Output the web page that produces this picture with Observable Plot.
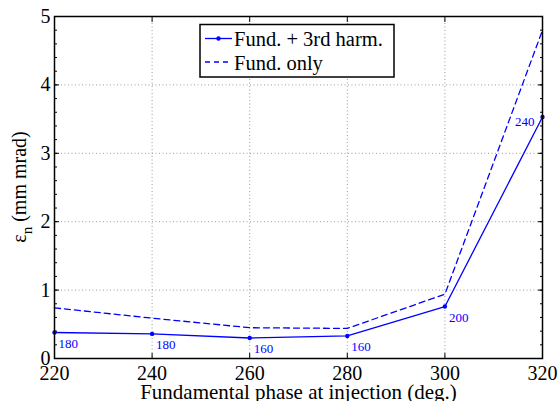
<!DOCTYPE html>
<html>
<head>
<meta charset="utf-8">
<script src="https://cdn.jsdelivr.net/npm/d3@7"></script>
<script src="https://cdn.jsdelivr.net/npm/@observablehq/plot@0.6"></script>
<style>
  html, body { margin: 0; padding: 0; background: white; }
  #chart { position: relative; width: 559px; height: 401px; }
</style>
</head>
<body>
<div id="chart"></div>
<script>
// Data
const phases = [220, 240, 260, 280, 300, 320];
const withHarm = [0.38, 0.36, 0.30, 0.33, 0.76, 3.53];
const fundOnly = [0.74, 0.59, 0.45, 0.44, 0.94, 4.80];
const pointLabels = ["180", "180", "160", "160", "200", "240"];
const xTicks = [220, 240, 260, 280, 300, 320];
const yTicks = [0, 1, 2, 3, 4, 5];
const yMinorTicks = d3.range(0, 26).map(i => i / 5);
const legendLabels = ["Fund. + 3rd harm.", "Fund. only"];
const xLabel = "Fundamental phase at injection (deg.)";

const harmRows = phases.map((x, i) => ({x, y: withHarm[i], label: pointLabels[i], i}));
const fundRows = phases.map((x, i) => ({x, y: fundOnly[i]}));
const blue = "#0000ff";
const font = "Liberation Serif";

const plot = Plot.plot({
  width: 559,
  height: 401,
  marginLeft: 54,
  marginRight: 17,
  marginTop: 16,
  marginBottom: 43,
  x: {domain: [220, 320]},
  y: {domain: [0, 5]},
  style: {fontFamily: font, fontSize: "20px", background: "white", color: "black"},
  marks: [
    Plot.ruleX(xTicks.slice(1, -1), {stroke: "#999", strokeDasharray: "1,2.5", strokeWidth: 1}),
    Plot.ruleY(yTicks.slice(1, -1), {stroke: "#999", strokeDasharray: "1,2.5", strokeWidth: 1}),
    Plot.axisX({ticks: xTicks, tickSize: 0, tickPadding: 7, tickFormat: d => String(d), label: null, fontSize: 20}),
    Plot.axisY({ticks: yTicks, tickSize: 0, tickPadding: 4, tickFormat: d => String(d), label: null, fontSize: 20}),
    Plot.axisX({ticks: xTicks, anchor: "bottom", tickSize: -5, text: null, label: null}),
    Plot.axisX({ticks: xTicks, anchor: "top", tickSize: -5, text: null, label: null}),
    Plot.axisY({ticks: yMinorTicks, anchor: "left", tickSize: -3, text: null, label: null}),
    Plot.axisY({ticks: yMinorTicks, anchor: "right", tickSize: -3, text: null, label: null}),
    Plot.axisY({ticks: yTicks, anchor: "left", tickSize: -5, text: null, label: null}),
    Plot.axisY({ticks: yTicks, anchor: "right", tickSize: -5, text: null, label: null}),
    Plot.line(fundRows, {x: "x", y: "y", stroke: blue, strokeWidth: 1.3, strokeDasharray: "6,4"}),
    Plot.line(harmRows, {x: "x", y: "y", stroke: blue, strokeWidth: 1.3}),
    Plot.dot(harmRows, {x: "x", y: "y", r: 2.2, fill: blue}),
    Plot.text(harmRows.filter(d => d.i < 5), {x: "x", y: "y", text: "label", fill: blue, fontSize: 13, textAnchor: "start", dx: 4, dy: 11}),
    Plot.text(harmRows.filter(d => d.i === 5), {x: "x", y: "y", text: "label", fill: blue, fontSize: 13, textAnchor: "end", dx: -8, dy: 5}),
    Plot.frame({stroke: "black", strokeWidth: 1.5}),
    Plot.text([xLabel], {frameAnchor: "bottom", dy: 40, fontSize: 21, fill: "black"})
  ]
});

document.getElementById("chart").appendChild(plot);

const svg = d3.select(plot);

// Y axis label with subscript
const yl = svg.append("text")
  .attr("transform", "translate(26,187) rotate(-90)")
  .attr("text-anchor", "middle")
  .attr("font-size", 20)
  .attr("fill", "black");
yl.append("tspan").text("\u03b5");
yl.append("tspan").attr("font-size", 15).attr("dy", 6).text("n");
yl.append("tspan").attr("dy", -6).text(" (mm mrad)");

// Legend
const lg = svg.append("g").attr("font-size", 20.5).attr("text-anchor", "start");
lg.append("rect").attr("x", 200).attr("y", 24.5).attr("width", 194).attr("height", 52.5)
  .attr("fill", "white").attr("stroke", "black").attr("stroke-width", 1.5);
lg.append("line").attr("x1", 205).attr("x2", 232).attr("y1", 38.5).attr("y2", 38.5)
  .attr("stroke", blue).attr("stroke-width", 1.3);
lg.append("circle").attr("cx", 218.5).attr("cy", 38.5).attr("r", 2.2).attr("fill", blue);
lg.append("line").attr("x1", 205).attr("x2", 232).attr("y1", 62).attr("y2", 62)
  .attr("stroke", blue).attr("stroke-width", 1.3).attr("stroke-dasharray", "5,4");
lg.append("text").attr("x", 234).attr("y", 45.5).attr("fill", "black").attr("text-anchor", "start").text(legendLabels[0]);
lg.append("text").attr("x", 234).attr("y", 69.5).attr("fill", "black").attr("text-anchor", "start").text(legendLabels[1]);

// Force serif font on every text element
svg.selectAll("text").style("font-family", "'Liberation Serif', serif");
</script>
</body>
</html>
